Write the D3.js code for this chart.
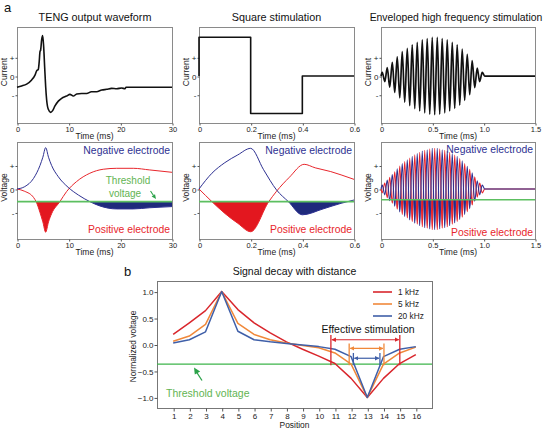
<!DOCTYPE html>
<html><head><meta charset="utf-8">
<script src="https://cdn.jsdelivr.net/npm/d3@7"></script>
<style>body{margin:0;background:#fff}svg{display:block;font-family:"Liberation Sans",Arial,Helvetica,sans-serif}</style>
</head><body><svg id="c" width="546" height="430"></svg>
<script>
// ---------------- DATA ----------------
// Panel a, top row (current, units: + = 1, - = -1)
const tengT = [0,0.9,1.87,2.84,3.48,3.8,4.13,4.3,4.45,4.58,4.77,4.97,5.16,5.35,5.55,5.74,6.06,6.5,6.9,7.35,8.0,8.64,9.6,10.25,10.9,11.55,12.5,13.5,14.4,15.4,16.4,17.35,18.3,19.3,20.25,20.9,21.1,30];
const tengI = [-0.6,-0.53,-0.43,-0.21,0.05,0.28,0.36,0.77,1.3,1.39,1.93,2.16,1.57,0.5,-0.57,-1.28,-1.78,-1.94,-1.85,-1.6,-1.34,-1.19,-1.07,-0.98,-1.07,-0.96,-0.93,-0.93,-0.84,-0.84,-0.75,-0.71,-0.66,-0.68,-0.64,-0.68,-0.6,-0.6];
const sqT = [0,0,0.2,0.2,0.4,0.4,0.6];
const sqI = [0,2.07,2.07,-2.0,-2.0,0,0];
// Enveloped high frequency: times of successive extrema and their amplitudes
const hfT = [0.012,0.037,0.061,0.085,0.110,0.134,0.158,0.183,0.207,0.231,0.256,0.280,0.304,0.329,0.353,0.377,0.402,0.426,0.450,0.475,0.499,0.523,0.548,0.572,0.596,0.621,0.645,0.669,0.694,0.718,0.742,0.767,0.791,0.815,0.840,0.864,0.888,0.913,0.937,0.961,0.986];
const hfAmp = [0.2,0.3,0.45,0.6,0.73,0.88,1.03,1.17,1.3,1.4,1.48,1.58,1.66,1.74,1.8,1.87,1.93,1.97,2.0,2.04,2.07,2.07,2.07,2.04,2.0,1.97,1.93,1.87,1.8,1.73,1.66,1.55,1.44,1.3,1.16,1.0,0.82,0.62,0.42,0.3,0.2];
const hfVoltScale = 0.836;
// Panel a, bottom row (voltage)
const p4BlueT = [0,1.5,3.2,4.45,5.0,5.55,6.1,6.7,8.0,9.9,11.9,14.1,16,19.3,22.5,25.7,30];
const p4BlueV = [0,0.1,0.45,1.0,1.35,1.76,1.35,1.0,0.52,0.07,-0.26,-0.54,-0.72,-0.85,-0.85,-0.8,-0.75];
const p4RedT = [0,1.5,3.2,3.7,4.45,5.0,5.55,6.1,6.7,8.3,9.6,11.5,14.1,16.7,19.3,22.5,25.7,30];
const p4RedV = [0,-0.1,-0.36,-0.54,-1.0,-1.4,-1.84,-1.4,-1.05,-0.54,-0.11,0.31,0.67,0.84,0.88,0.88,0.81,0.71];
const p5BlueT = [0,0.05,0.1,0.15,0.2,0.25,0.3,0.346,0.4,0.48,0.55,0.6];
const p5BlueV = [0,0.67,1.12,1.45,1.73,0.82,-0.04,-0.54,-1.1,-0.85,-0.61,-0.47];
const p5RedT = [0,0.05,0.1,0.15,0.2,0.27,0.3,0.35,0.407,0.45,0.51,0.55,0.6];
const p5RedV = [0,-0.54,-1.04,-1.46,-1.82,-0.54,-0.1,0.5,1.05,0.9,0.74,0.6,0.41];
const thrA = [-0.54,-0.54,-0.46];
// Panel b
const positions = [1,2,3,4,5,6,7,8,9,10,11,12,13,14,15,16];
const series = ["1 kHz","5 kHz","20 kHz"];
const v1k  = [0.19,0.41,0.64,1.0,0.66,0.41,0.22,0.05,-0.09,-0.22,-0.36,-0.64,-1.0,-0.64,-0.36,-0.19];
const v5k  = [0.06,0.16,0.38,1.0,0.4,0.19,0.09,0.03,-0.02,-0.06,-0.16,-0.37,-1.0,-0.37,-0.16,-0.05];
const v20k = [0.03,0.09,0.24,1.0,0.25,0.09,0.05,0.02,-0.01,-0.04,-0.09,-0.23,-1.0,-0.23,-0.09,-0.04];
const thrB = -0.37;
const effLeft = [10.75,11.88,12.14];
const effRight = [15.01,14.03,13.78];
const effTop = [0.18,0.02,-0.16];
const effArrow = [0.09,-0.075,-0.26];
const yTicksB = [-1,-0.5,0,0.5,1];

// ---------------- DRAWING ----------------
const svg = d3.select('#c');
const BLUE = '#2e3192', RED = '#e8262c', REDF = '#e3171f', BLUEF = '#1f2a7c', GREEN = '#5cbf60', GTXT = '#62b452';
const colsB = ['#d9262c','#f0883a','#3f5fa8'];

function frame(x0,x1,y0,y1, xd, yd, xt, xl, ylabel, yt, ylab){
  const x = d3.scaleLinear().domain(xd).range([x0,x1]);
  const y = d3.scaleLinear().domain(yd).range([y1,y0]);
  const g = svg.append('g');
  g.append('rect').attr('x',x0+0.5).attr('y',y0+0.5).attr('width',x1-x0).attr('height',y1-y0)
    .attr('fill','none').attr('stroke','#8a8a8a');
  const xa = g.append('g').attr('transform',`translate(0.5,${y1+0.5})`)
    .call(d3.axisBottom(x).tickValues(xt).tickFormat((d,i)=>xl[i]).tickSize(2).tickPadding(1));
  xa.select('.domain').remove();
  xa.selectAll('line').attr('stroke','#555');
  xa.selectAll('text').attr('font-size',7.5).attr('fill','#222').attr('font-family','"Liberation Sans",Arial,sans-serif');
  const ya = g.append('g').attr('transform',`translate(${x0+0.5},0.5)`)
    .call(d3.axisLeft(y).tickValues(yt).tickFormat((d,i)=>ylab[i]).tickSize(2).tickPadding(1));
  ya.select('.domain').remove();
  ya.selectAll('line').attr('stroke','#555');
  ya.selectAll('text').attr('font-size',8).attr('fill','#222').attr('font-family','"Liberation Sans",Arial,sans-serif');
  g.append('text').attr('x',(x0+x1)/2).attr('y',y1+16).attr('text-anchor','middle').attr('font-size',8.5).attr('fill','#222').text('Time (ms)');
  g.append('text').attr('transform',`translate(${x0-10},${(y0+y1)/2-3}) rotate(-90)`).attr('text-anchor','middle').attr('font-size',8.5).attr('fill','#222').text(ylabel);
  return {x,y,g};
}

const cols = [[17,172],[199,354],[381,535]];
const xDoms = [[0,30],[0,0.6],[0,1.5]];
const xTicks = [[0,10,20,30],[0,0.2,0.4,0.6],[0,0.5,1.0,1.5]];
const xLabs = [['0','10','20','30'],['0','0.2','0.4','0.6'],['0','0.5','1.0','1.5']];
const titles = ['TENG output waveform','Square stimulation','Enveloped high frequency stimulation'];
const titleX = [95,276.5,456];
const titleSize = [10.8,10.8,10.4];

svg.append('text').attr('x',4).attr('y',12).attr('font-size',13).attr('fill','#111').text('a');

// hf sequence builder
function hfSeries(sign, scale){
  const pts = [[0,0]];
  hfT.forEach((t,i)=>pts.push([t, sign*(i%2===0?1:-1)*hfAmp[i]*scale]));
  pts.push([1.01,0]); pts.push([1.5,0]);
  return pts;
}

// top row
const topPts = [
  tengT.map((t,i)=>[t,tengI[i]]),
  sqT.map((t,i)=>[t,sqI[i]]),
  hfSeries(1,1)
];
for(let k=0;k<3;k++){
  const f = frame(cols[k][0],cols[k][1],27,123,xDoms[k],[-2.51,2.62],xTicks[k],xLabs[k],'Current',[1,0,-1],['+','0','-']);
  svg.append('text').attr('x',titleX[k]).attr('y',21).attr('text-anchor','middle').attr('font-size',titleSize[k]).attr('fill','#111').text(titles[k]);
  const line = d3.line().x(d=>f.x(d[0])).y(d=>f.y(d[1])).curve(k===1?d3.curveLinear:d3.curveMonotoneX);
  f.g.append('path').attr('d',line(topPts[k])).attr('fill','none').attr('stroke','#111')
    .attr('stroke-width',k===2?1.7:1.6).attr('stroke-linejoin','round');
}

// bottom row
const botBlue = [p4BlueT.map((t,i)=>[t,p4BlueV[i]]), p5BlueT.map((t,i)=>[t,p5BlueV[i]]), hfSeries(1,hfVoltScale)];
const botRed = [p4RedT.map((t,i)=>[t,p4RedV[i]]), p5RedT.map((t,i)=>[t,p5RedV[i]]), hfSeries(-1,hfVoltScale)];
for(let k=0;k<3;k++){
  const x0=cols[k][0], x1=cols[k][1], y0=142, y1=239;
  const f = frame(x0,x1,y0,y1,xDoms[k],[-2.13,2.0],xTicks[k],xLabs[k],'Voltage',[1,0,-1],['+','0','-']);
  const thr = thrA[k];
  const cid = 'clip'+k;
  svg.append('clipPath').attr('id',cid).append('rect').attr('x',x0).attr('y',f.y(thr)).attr('width',x1-x0).attr('height',y1-f.y(thr));
  const area = d3.area().x(d=>f.x(d[0])).y0(f.y(thr)).y1(d=>f.y(d[1])).curve(d3.curveMonotoneX);
  const line = d3.line().x(d=>f.x(d[0])).y(d=>f.y(d[1])).curve(d3.curveMonotoneX);
  const sw = k===2?1.1:1;
  f.g.append('path').attr('d',area(botRed[k])).attr('fill',REDF).attr('clip-path',`url(#${cid})`);
  f.g.append('path').attr('d',area(botBlue[k])).attr('fill',BLUEF).attr('clip-path',`url(#${cid})`);
  f.g.append('path').attr('d',line(botRed[k])).attr('fill','none').attr('stroke',RED).attr('stroke-width',sw);
  f.g.append('path').attr('d',line(botBlue[k])).attr('fill','none').attr('stroke',BLUE).attr('stroke-width',sw);
  f.g.append('line').attr('x1',x0).attr('x2',x1).attr('y1',f.y(thr)).attr('y2',f.y(thr)).attr('stroke',GREEN).attr('stroke-width',1.6);
  const nb = k===2?153:154, pb = k===2?236:233;
  f.g.append('text').attr('x',x1-2).attr('y',nb).attr('text-anchor','end').attr('font-size',10.4).attr('fill',BLUE).text('Negative electrode');
  f.g.append('text').attr('x',x1-2).attr('y',pb).attr('text-anchor','end').attr('font-size',10.4).attr('fill',RED).text('Positive electrode');
  if(k===0){
    f.g.append('text').attr('x',128).attr('y',184).attr('text-anchor','middle').attr('font-size',10).attr('fill',GTXT).text('Threshold');
    f.g.append('text').attr('x',125).attr('y',197).attr('text-anchor','middle').attr('font-size',10).attr('fill',GTXT).text('voltage');
    f.g.append('line').attr('x1',150.5).attr('y1',191).attr('x2',153.5).attr('y2',195.5).attr('stroke','#2ca24a').attr('stroke-width',1.1);
    f.g.append('path').attr('d','M156,199 L151.6,196.6 L155,194.3 Z').attr('fill','#2ca24a');
  }
}

// panel b
const bx0=157,bx1=432,by0=281,by1=408;
const xb = d3.scaleLinear().domain([0,17]).range([bx0,bx1]);
const yb = d3.scaleLinear().domain([-1.2,1.2]).range([by1,by0]);
svg.append('text').attr('x',124).attr('y',276).attr('font-size',13).attr('fill','#111').text('b');
svg.append('text').attr('x',(bx0+bx1)/2).attr('y',275).attr('text-anchor','middle').attr('font-size',10.5).attr('fill','#111').text('Signal decay with distance');
svg.append('rect').attr('x',bx0+0.5).attr('y',by0+0.5).attr('width',bx1-bx0).attr('height',by1-by0).attr('fill','none').attr('stroke','#777');
const xab = svg.append('g').attr('transform',`translate(0.5,${by1+0.5})`).call(d3.axisBottom(xb).tickValues(positions).tickFormat(d3.format('d')).tickSize(3).tickPadding(2));
xab.select('.domain').remove();
xab.selectAll('line').attr('stroke','#555');
xab.selectAll('text').attr('font-size',8).attr('fill','#222').attr('font-family','"Liberation Sans",Arial,sans-serif');
const yab = svg.append('g').attr('transform',`translate(${bx0+0.5},0.5)`).call(d3.axisLeft(yb).tickValues(yTicksB).tickFormat(d3.format('.1f')).tickSize(3).tickPadding(1));
yab.select('.domain').remove();
yab.selectAll('line').attr('stroke','#555');
yab.selectAll('text').attr('font-size',8).attr('fill','#222').attr('font-family','"Liberation Sans",Arial,sans-serif');
svg.append('text').attr('x',(bx0+bx1)/2).attr('y',428).attr('text-anchor','middle').attr('font-size',8.4).attr('fill','#222').text('Position');
svg.append('text').attr('transform',`translate(136,${(by0+by1)/2+2}) rotate(-90)`).attr('text-anchor','middle').attr('font-size',8.4).attr('fill','#222').text('Normalized voltage');

// threshold
svg.append('line').attr('x1',bx0).attr('x2',bx1).attr('y1',yb(thrB)).attr('y2',yb(thrB)).attr('stroke','#3cb44a').attr('stroke-width',1.2);
svg.append('text').attr('x',166).attr('y',397).attr('font-size',10.5).attr('fill',GTXT).text('Threshold voltage');
svg.append('line').attr('x1',202).attr('y1',380.5).attr('x2',196.5).attr('y2',372).attr('stroke','#2ca24a').attr('stroke-width',1.3);
svg.append('path').attr('d','M194,367.5 L200.2,371.6 L194.8,374.6 Z').attr('fill','#2ca24a');

const lineB = d3.line().x((d,i)=>xb(positions[i])).y(d=>yb(d));
[v1k,v5k,v20k].forEach((vals,i)=>{
  svg.append('path').attr('d',lineB(vals)).attr('fill','none').attr('stroke',colsB[i]).attr('stroke-width',1.5).attr('stroke-linejoin','round');
});

// legend
series.forEach((s,i)=>{
  const ly = 292 + i*12;
  svg.append('line').attr('x1',373).attr('x2',392).attr('y1',ly).attr('y2',ly).attr('stroke',colsB[i]).attr('stroke-width',1.6);
  svg.append('text').attr('x',398).attr('y',ly+3).attr('font-size',8.3).attr('fill','#222').text(s);
});

// effective stimulation
svg.append('text').attr('x',368).attr('y',333).attr('text-anchor','middle').attr('font-size',10.5).attr('fill','#111').text('Effective stimulation');
const defs = svg.append('defs');
colsB.forEach((c,i)=>{
  defs.append('marker').attr('id','ah'+i).attr('viewBox','0 0 10 10').attr('refX',9).attr('refY',5)
    .attr('markerWidth',4.5).attr('markerHeight',4.5).attr('markerUnits','userSpaceOnUse').attr('orient','auto-start-reverse')
    .append('path').attr('d','M0,0 L10,5 L0,10 Z').attr('fill',c);
});
effLeft.forEach((l,i)=>{
  const c = colsB[i];
  [l,effRight[i]].forEach(p=>{
    svg.append('line').attr('x1',xb(p)).attr('x2',xb(p)).attr('y1',yb(effTop[i])).attr('y2',yb(-0.39)).attr('stroke',c).attr('stroke-width',1.3);
  });
  svg.append('line').attr('x1',xb(l)+1).attr('x2',xb(effRight[i])-1).attr('y1',yb(effArrow[i])).attr('y2',yb(effArrow[i]))
    .attr('stroke',c).attr('stroke-width',1.2).attr('marker-start',`url(#ah${i})`).attr('marker-end',`url(#ah${i})`);
});
</script></body></html>
